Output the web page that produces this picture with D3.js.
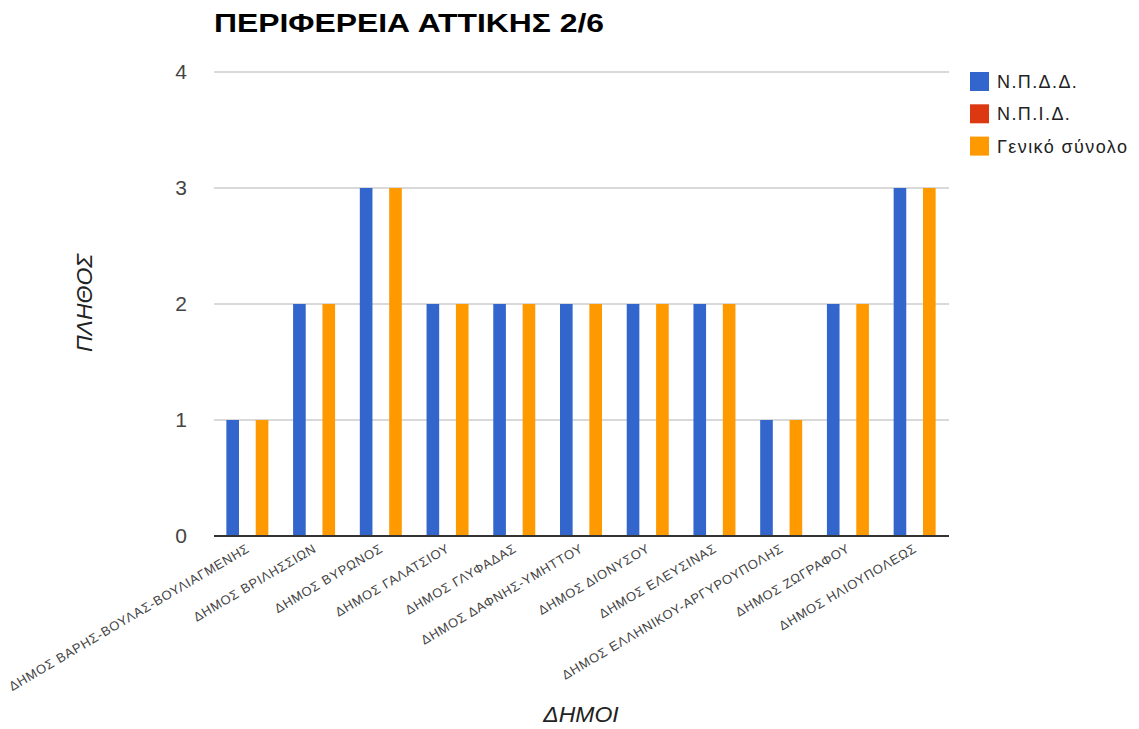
<!DOCTYPE html>
<html><head><meta charset="utf-8">
<script src="https://cdn.jsdelivr.net/npm/d3@7"></script>
<style>body{margin:0;background:#fff;} svg{display:block;}</style>
</head><body>
<svg id="c" width="1139" height="729"></svg>
<script>
const categories = ["ΔΗΜΟΣ ΒΑΡΗΣ-ΒΟΥΛΑΣ-ΒΟΥΛΙΑΓΜΕΝΗΣ","ΔΗΜΟΣ ΒΡΙΛΗΣΣΙΩΝ","ΔΗΜΟΣ ΒΥΡΩΝΟΣ","ΔΗΜΟΣ ΓΑΛΑΤΣΙΟΥ","ΔΗΜΟΣ ΓΛΥΦΑΔΑΣ","ΔΗΜΟΣ ΔΑΦΝΗΣ-ΥΜΗΤΤΟΥ","ΔΗΜΟΣ ΔΙΟΝΥΣΟΥ","ΔΗΜΟΣ ΕΛΕΥΣΙΝΑΣ","ΔΗΜΟΣ ΕΛΛΗΝΙΚΟΥ-ΑΡΓΥΡΟΥΠΟΛΗΣ","ΔΗΜΟΣ ΖΩΓΡΑΦΟΥ","ΔΗΜΟΣ ΗΛΙΟΥΠΟΛΕΩΣ"];
const seriesNames = ["Ν.Π.Δ.Δ.","Ν.Π.Ι.Δ.","Γενικό σύνολο"];
const npdd = [1,2,3,2,2,2,2,2,1,2,3];
const npid = [0,0,0,0,0,0,0,0,0,0,0];
const total = [1,2,3,2,2,2,2,2,1,2,3];
const yTicks = [0,1,2,3,4];
const colors = ["#3366cc","#dc3912","#ff9900"];
const title = "ΠΕΡΙΦΕΡΕΙΑ ΑΤΤΙΚΗΣ 2/6";
const xTitle = "ΔΗΜΟΙ", yTitle = "ΠΛΗΘΟΣ";

const FONT = "Liberation Sans, Arial, sans-serif";
const series = [npdd, npid, total];
const svg = d3.select("#c");
const L = 214, R = 948, T = 72, B = 536;
const x = d3.scaleBand().domain(categories).range([L, R]);
const x1 = d3.scaleBand().domain(d3.range(series.length)).range([0, 42]).paddingInner(0.14);
const y = d3.scaleLinear().domain([0, 4]).range([B, T]);

// gridlines
svg.append("g").selectAll("line").data(yTicks.filter(d=>d>0)).join("line")
  .attr("x1", L).attr("x2", R + 1).attr("y1", d=>y(d)).attr("y2", d=>y(d))
  .attr("stroke", "#cccccc").attr("stroke-width", 1.5);

// y axis labels
const yAxis = d3.axisLeft(y).tickValues(yTicks).tickFormat(d3.format("d")).tickSize(0).tickPadding(27);
const ya = svg.append("g").attr("transform", `translate(${L},0)`).call(yAxis);
ya.select(".domain").remove();
ya.selectAll("text").attr("font-family",FONT).attr("font-size",21).attr("fill","#444");

// bars
const groups = svg.append("g").selectAll("g").data(categories).join("g")
  .attr("transform", d => `translate(${x(d) + x.bandwidth()/2 - 21},0)`);
groups.selectAll("rect").data((d,i) => series.map((s,k)=>({k, v:s[i]}))).join("rect")
  .attr("x", d => x1(d.k)).attr("width", x1.bandwidth())
  .attr("y", d => y(d.v)).attr("height", d => B - y(d.v))
  .attr("fill", d => colors[d.k]);

// baseline
svg.append("line").attr("x1", L).attr("x2", R + 1).attr("y1", B).attr("y2", B)
  .attr("stroke", "#333").attr("stroke-width", 2);

// x axis labels
const xAxis = d3.axisBottom(x).tickSize(0).tickPadding(0);
const xa = svg.append("g").attr("transform", `translate(0,${B})`).call(xAxis);
xa.select(".domain").remove();
xa.selectAll("text")
  .attr("font-family",FONT).attr("font-size",13)
  .attr("letter-spacing","0.7px")
  .attr("fill","#444").attr("text-anchor","end")
  .attr("dy", null).attr("y", 0)
  .attr("transform","translate(3,15) rotate(-30.5)");

// title
svg.append("text").attr("x", 214).attr("y", 32).text(title)
  .attr("font-family",FONT).attr("font-weight","bold")
  .attr("font-size",26).attr("fill","#000")
  .attr("textLength", 390).attr("lengthAdjust","spacingAndGlyphs");

// axis titles
svg.append("text").attr("x", 581).attr("y", 722).attr("text-anchor","middle").text(xTitle)
  .attr("font-family",FONT).attr("font-style","italic")
  .attr("font-size",23).attr("fill","#222");
svg.append("text").attr("transform","translate(92,303) rotate(-90)").attr("text-anchor","middle").text(yTitle)
  .attr("font-family",FONT).attr("font-style","italic")
  .attr("font-size",23).attr("fill","#222");

// legend
const lg = svg.append("g").selectAll("g").data(seriesNames).join("g")
  .attr("transform", (d,i)=>`translate(970,${72 + i*32.3})`);
lg.append("rect").attr("width",19).attr("height",19).attr("fill",(d,i)=>colors[i]);
lg.append("text").attr("x",27).attr("y",16).text(d=>d)
  .attr("font-family",FONT).attr("font-size",18)
  .attr("letter-spacing","1.4px").attr("fill","#222");
</script>
</body></html>
